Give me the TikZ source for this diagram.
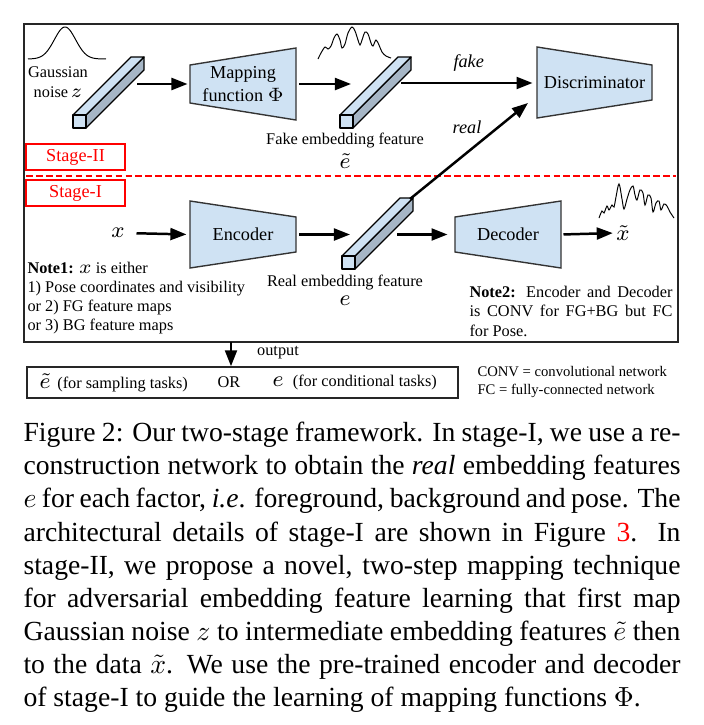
\documentclass[tikz,border=0pt]{standalone}
\usepackage[no-math]{fontspec}
\setmainfont{Liberation Serif}
\usepackage{amsmath}
\usepackage{xcolor}
\usepackage{tikz}
\usetikzlibrary{arrows.meta,positioning}
\newcommand\pxu{0.3617pt}
\newcommand\bigsym[1]{{\fontsize{8.5}{8.5}\selectfont$#1$}}
\definecolor{blockblue}{RGB}{207,226,243}
\definecolor{barshade}{RGB}{166,182,198}
\tikzset{
  netbody/.style={draw=black!80,fill=blockblue,line width=0.5pt},
  netlabel/.style={inner sep=0pt,align=center,font=\fontsize{6.6}{8}\selectfont},
  smalltext/.style={inner sep=0pt,align=center,font=\fontsize{5.9}{6.9}\selectfont},
  symtext/.style={inner sep=0pt,font=\fontsize{8.5}{8.5}\selectfont},
  bartop/.style={draw=black,fill=blockblue,line width=0.45pt,line join=round},
  barside/.style={draw=black,fill=barshade,line width=0.45pt,line join=round},
  flow/.style={-{Triangle[length=5.8pt,width=4.3pt]},line width=0.9pt},
  wiggle/.style={line width=0.35pt},
  stagebox/.style={draw=red,text=red,line width=0.6pt,minimum width=99*\pxu,
    minimum height=26*\pxu,inner sep=0pt,font=\fontsize{6.6}{8}\selectfont},
  outline/.style={draw=black!85,line width=0.5pt,inner sep=0pt}
}
% embedding bar, front face top left at (#2,#3)
\newcommand\featbar[3]{%
  \begin{scope}[shift={(#2,#3)}]
    \draw[barside] (13,0) -- (71,-58) -- (71,-45) -- (13,13) -- cycle;
    \draw[bartop] (0,0) -- (58,-58) -- (71,-58) -- (13,0) -- cycle;
    \draw[bartop] (0,0) rectangle (13,13);
    \coordinate (#1) at (35.5,-22.5);
  \end{scope}}
\begin{document}
\begin{tikzpicture}[x=\pxu,y=-\pxu]
  \useasboundingbox (0,0) rectangle (704,725);
  \node[outline,minimum width=654*\pxu,minimum height=318*\pxu] (frame) at (351,183) {};
  \draw[red,line width=0.5pt,dash pattern=on 2.4pt off 1.2pt] (26,176) -- (676,176);
  \node[stagebox] (stage2) at (75.5,157) {Stage-II};
  \node[stagebox] (stage1) at (75.5,193) {Stage-I};
  % stage-II
  \draw[wiggle,domain=28:106,samples=70] plot (\x,{59-32*exp(0-((\x-65)/15)^2)});
  \node[smalltext,font=\fontsize{5.9}{7.2}\selectfont] (noise) at (58,82)
    {Gaussian\\noise\,{\fontsize{7.5}{7}\selectfont$z$}};
  \featbar{zbar}{73}{115}
  \draw[netbody] (190,65) -- (296,48) -- (296,120) -- (190,103) -- cycle;
  \node[netlabel,minimum width=106*\pxu] (mapping) at (243,84) {Mapping\\function $\Phi$};
  \draw[wiggle] plot[smooth,tension=0.55] coordinates {(318,59) (321,53) (325,47)
    (328,49) (331,46) (334,38) (337,34) (340,40) (342,48) (345,44) (348,33) (352,27)
    (355,31) (358,40) (360,45) (362,40) (365,32) (368,34) (371,43) (373,46) (376,40)
    (379,45) (382,52) (386,56) (391,58)};
  \featbar{fakebar}{340}{115}
  \node[smalltext] (fakelab) at (345,141) {Fake embedding feature};
  \node[symtext] (etilde) at (345,161) {$\tilde{e}$};
  \draw[netbody] (537,47) -- (652,65) -- (652,100) -- (537,118) -- cycle;
  \node[netlabel,minimum width=115*\pxu] (discrim) at (594.5,83) {Discriminator};
  % stage-I
  \node[symtext] (xin) at (118,233) {$x$};
  \draw[netbody] (190,201) -- (296,217) -- (296,252) -- (190,268) -- cycle;
  \node[netlabel,minimum width=106*\pxu] (encoder) at (243,234.5) {Encoder};
  \featbar{realbar}{342}{256}
  \node[smalltext] (reallab) at (345,283) {Real embedding feature};
  \node[symtext] (ereal) at (345,301) {$e$};
  \draw[netbody] (455,217) -- (561,201) -- (561,268) -- (455,252) -- cycle;
  \node[netlabel,minimum width=106*\pxu] (decoder) at (508,234.5) {Decoder};
  \node[symtext] (xout) at (623,233) {$\tilde{x}$};
  \draw[wiggle] plot[smooth,tension=0.55] coordinates {(599,218) (602,211) (604,213)
    (607,206) (609,210) (612,205) (614,207) (616,197) (619,184) (622,199) (624,209)
    (627,199) (630,190) (633,186) (635,195) (637,200) (640,190) (643,193) (645,205)
    (648,195) (651,198) (653,212) (656,203) (659,201) (661,210) (664,204) (667,206)
    (670,212) (674,218)};
  % ports
  \coordinate (zbar-out) at (137,84);
  \coordinate (fake-in) at (351,84);
  \coordinate (fake-out) at (401,83);
  \coordinate (real-in) at (350,234.5);
  \coordinate (real-out) at (397,234.5);
  \coordinate (real-top) at (410,199);
  \coordinate (real-tip) at (528,103);
  \coordinate (outport) at (231,342);
  % connectors
  \draw[flow,shorten >=0.7pt] (zbar-out) -- (mapping.west);
  \draw[flow,shorten <=1pt] (mapping.east) -- (fake-in);
  \draw[flow,shorten >=1.4pt] (fake-out) -- (discrim.west)
    node[midway,above=3.7pt,inner sep=0pt,font=\fontsize{6.6}{8}\selectfont\itshape] (fakeword) {fake};
  \draw[flow] (real-top) -- (real-tip);
  \node[netlabel,font=\fontsize{6.6}{8}\selectfont\itshape] (realword) at (467,127) {real};
  \draw[flow,shorten <=4.1pt,shorten >=1.1pt] (xin.east) -- (encoder.west);
  \draw[flow,shorten <=1pt] (encoder.east) -- (real-in);
  \draw[flow,shorten >=2.5pt] (real-out) -- (decoder.west);
  \draw[flow,shorten <=0.7pt,shorten >=1.1pt] (decoder.east) -- (xout.west);
  % notes
  \node[smalltext,align=left,anchor=north west] (note1) at (27,259.6)
    {\strut\textbf{Note1:} {\fontsize{7.5}{7}\selectfont$x$} is either\\1) Pose coordinates and visibility\\or 2) FG feature maps\\or 3) BG feature maps};
  \node[smalltext,align=justify,text width=203*\pxu,anchor=north west,
    font=\fontsize{5.9}{7}\selectfont] (note2) at (469,283.5)
    {\strut\textbf{Note2:} Encoder and Decoder\linebreak is CONV for FG+BG but FC\linebreak for Pose.};
  % output
  \node[outline,minimum width=431*\pxu,minimum height=31*\pxu] (outbox) at (242.5,382.5) {};
  \draw[flow] (outport) -- (outport |- outbox.north);
  \node[smalltext] (outlab) at (278,353) {output};
  \node[smalltext,anchor=west] (samp) at (39,382.5) {\bigsym{\tilde{e}}\hspace{2.5pt}(for sampling tasks)};
  \node[smalltext] (orword) at (229,382.5) {OR};
  \node[smalltext,anchor=west] (cond) at (272,382.5) {\bigsym{e}\hspace{3.4pt}(for conditional tasks)};
  \node[smalltext,align=left,anchor=west,font=\fontsize{5.3}{6.5}\selectfont] (legend) at (477,382)
    {CONV = convolutional network\\FC = fully-connected network};
  % caption
  \node[anchor=north west,inner sep=0pt,text width=657*\pxu,align=justify,
    font=\fontsize{10}{12}\selectfont] (caption) at (23,417.8)
    {\strut Figure 2: Our two-stage framework. In stage-I, we use a re-\linebreak
    construction network to obtain the \textit{real} embedding features\linebreak
    $e$ for each factor, \textit{i.e}. foreground, background and pose. The\linebreak
    architectural details of stage-I are shown in Figure \textcolor{red}{3}.  In\linebreak
    stage-II, we propose a novel, two-step mapping technique\linebreak
    for adversarial embedding feature learning that first map\linebreak
    Gaussian noise $z$ to intermediate embedding features $\tilde{e}$ then\linebreak
    to the data $\tilde{x}$.  We use the pre-trained encoder and decoder\linebreak
    of stage-I to guide the learning of mapping functions $\Phi$.};
\end{tikzpicture}
\end{document}
